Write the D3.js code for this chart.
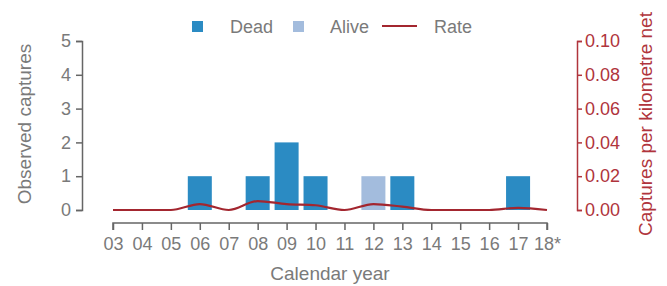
<!DOCTYPE html>
<html>
<head>
<meta charset="utf-8">
<script src="https://d3js.org/d3.v7.min.js"></script>
<style>
  body { margin: 0; background: #fff; }
  svg { font-family: "Liberation Sans", Arial, sans-serif; }
  .tick text { font-size: 18px; }
</style>
</head>
<body>
<script>
  // data
  var years = ['03', '04', '05', '06', '07', '08', '09', '10', '11', '12', '13', '14', '15', '16', '17', '18*'];
  var dead  = [0, 0, 0, 1, 0, 1, 2, 1, 0, 0, 1, 0, 0, 0, 1, 0];
  var alive = [0, 0, 0, 0, 0, 0, 0, 0, 0, 1, 0, 0, 0, 0, 0, 0];
  var rate  = [0, 0, 0, 0.0035, 0, 0.0053, 0.0035, 0.0028, 0, 0.0035, 0.002, 0, 0, 0, 0.0013, 0];
  var leftTicks = [0, 1, 2, 3, 4, 5];
  var rightTicks = [0, 0.02, 0.04, 0.06, 0.08, 0.10];

  var width = 667, height = 286;
  var grey = '#7a7a7a', axisGrey = '#666';
  var red = '#b0343c', lineRed = '#a3262f';
  var deadCol = '#2b8bc3', aliveCol = '#a3bcdd';

  var svg = d3.select('body').append('svg')
    .attr('width', width).attr('height', height);

  // scales
  var x = d3.scalePoint().domain(years).range([113, 547]);
  var barW = x.step() * 0.83;
  var yL = d3.scaleLinear().domain([0, 5]).range([210, 41]);
  var yR = d3.scaleLinear().domain([0, 0.10]).range([210, 41]);

  var rows = years.map(function(y, i) {
    return {year: y, dead: dead[i], alive: alive[i], rate: rate[i]};
  });

  // bars
  svg.selectAll('rect.dead')
    .data(rows.filter(function(d) { return d.dead > 0; }))
    .enter().append('rect')
    .attr('class', 'dead')
    .attr('x', function(d) { return x(d.year) - barW / 2; })
    .attr('y', function(d) { return yL(d.dead); })
    .attr('width', barW)
    .attr('height', function(d) { return yL(0) - yL(d.dead); })
    .attr('fill', deadCol);

  svg.selectAll('rect.alive')
    .data(rows.filter(function(d) { return d.alive > 0; }))
    .enter().append('rect')
    .attr('class', 'alive')
    .attr('x', function(d) { return x(d.year) - barW / 2; })
    .attr('y', function(d) { return yL(d.dead + d.alive); })
    .attr('width', barW)
    .attr('height', function(d) { return yL(d.dead) - yL(d.dead + d.alive); })
    .attr('fill', aliveCol);

  // rate line
  var line = d3.line()
    .x(function(d) { return x(d.year); })
    .y(function(d) { return yR(d.rate); })
    .curve(d3.curveMonotoneX);
  svg.append('path')
    .datum(rows)
    .attr('d', line)
    .attr('fill', 'none')
    .attr('stroke', lineRed)
    .attr('stroke-width', 2.2);

  // axes
  var gx = svg.append('g')
    .attr('transform', 'translate(0,223)')
    .call(d3.axisBottom(x).tickSize(7).tickSizeOuter(7).tickPadding(7));
  gx.selectAll('path, line').attr('stroke', axisGrey).attr('stroke-width', 1.5);
  gx.selectAll('text').attr('fill', grey);
  gx.select('.domain').attr('d', 'M113,7V0H547V7');

  var gl = svg.append('g')
    .attr('transform', 'translate(82,0)')
    .call(d3.axisLeft(yL).tickValues(leftTicks).tickFormat(d3.format('d'))
      .tickSize(6).tickSizeOuter(6).tickPadding(5));
  gl.selectAll('path, line').attr('stroke', axisGrey).attr('stroke-width', 1.5);
  gl.selectAll('text').attr('fill', grey);

  var gr = svg.append('g')
    .attr('transform', 'translate(577,0)')
    .call(d3.axisRight(yR).tickValues(rightTicks).tickFormat(d3.format('.2f'))
      .tickSize(5).tickSizeOuter(5).tickPadding(3));
  gr.selectAll('path, line').attr('stroke', red).attr('stroke-width', 1.5);
  gr.selectAll('text').attr('fill', red);

  // axis titles
  svg.append('text')
    .attr('transform', 'translate(31,124) rotate(-90)')
    .attr('text-anchor', 'middle')
    .attr('font-size', 19)
    .attr('fill', grey)
    .text('Observed captures');

  svg.append('text')
    .attr('transform', 'translate(652,124) rotate(-90)')
    .attr('text-anchor', 'middle')
    .attr('font-size', 19)
    .attr('fill', red)
    .text('Captures per kilometre net');

  svg.append('text')
    .attr('x', 330).attr('y', 280)
    .attr('text-anchor', 'middle')
    .attr('font-size', 19)
    .attr('fill', grey)
    .text('Calendar year');

  // legend
  var legend = svg.append('g').attr('font-size', 18).attr('fill', grey);
  legend.append('rect').attr('x', 192).attr('y', 21).attr('width', 11).attr('height', 11).attr('fill', deadCol);
  legend.append('text').attr('x', 230).attr('y', 33).text('Dead');
  legend.append('rect').attr('x', 293).attr('y', 21).attr('width', 11).attr('height', 11).attr('fill', aliveCol);
  legend.append('text').attr('x', 330).attr('y', 33).text('Alive');
  legend.append('line').attr('x1', 382).attr('x2', 417).attr('y1', 26).attr('y2', 26)
    .attr('stroke', lineRed).attr('stroke-width', 2);
  legend.append('text').attr('x', 434).attr('y', 33).text('Rate');
</script>
</body>
</html>
